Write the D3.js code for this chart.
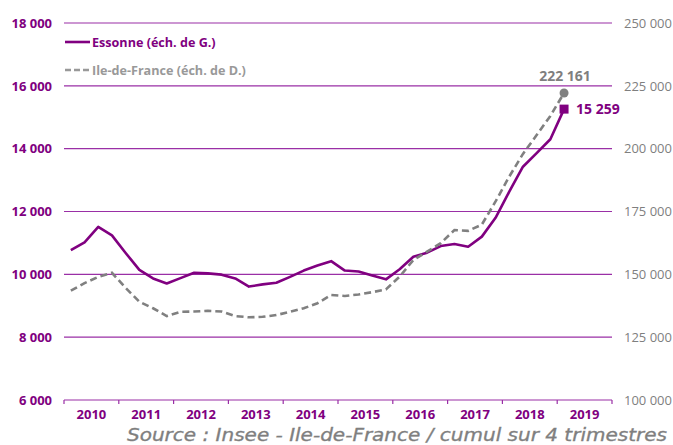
<!DOCTYPE html>
<html>
<head>
<meta charset="utf-8">
<script src="https://cdn.jsdelivr.net/npm/d3@7"></script>
<style>
  body { margin: 0; background: #fff; }
  svg { display: block; font-family: "Open Sans", "Noto Sans", sans-serif; }
</style>
</head>
<body>
<svg id="chart"></svg>
<script>
(function() {

const years = [2010, 2011, 2012, 2013, 2014, 2015, 2016, 2017, 2018, 2019];
const leftTicks = [6000, 8000, 10000, 12000, 14000, 16000, 18000];
const rightTicks = [100000, 125000, 150000, 175000, 200000, 225000, 250000];

// cumul sur 4 trimestres, 2010 T1 -> 2019 T1
const essonne = [
  10770, 11020, 11510, 11240,
  10680, 10140, 9870, 9710,
  9880, 10050, 10030, 9990,
  9870, 9610, 9680, 9730,
  9920, 10120, 10280, 10420,
  10120, 10090, 9960, 9840,
  10160, 10560, 10690, 10900,
  10965, 10880, 11200, 11800,
  12630, 13425, 13860, 14300,
  15259
];
const idf = [
  143500, 146500, 149000, 150600,
  144600, 139100, 136500, 133400,
  135100, 135200, 135500, 135200,
  133400, 132900, 133100, 133800,
  135100, 136500, 138500, 141800,
  141400, 142000, 142900, 144000,
  149100, 155700, 159000, 162400,
  167600, 167300, 169800, 179000,
  188900, 197900, 205400, 213000,
  222161
];

const purple = "#800080";
const gridColor = "#9a2fa6";
const grey = "#808080";

const W = 673, H = 445;
const margin = { top: 23, right: 61, bottom: 45, left: 64 };
const width = W - margin.left - margin.right;
const height = H - margin.top - margin.bottom;

const fmt = d => d3.format(",")(d).replace(",", " ");

const svg = d3.select("#chart")
    .attr("width", W)
    .attr("height", H);

const g = svg.append("g")
    .attr("transform", `translate(${margin.left},${margin.top})`);

const quarters = years.flatMap(y => [1, 2, 3, 4].map(q => `${y}T${q}`));

const xYear = d3.scaleBand().domain(years).range([0, width]);
const xQ = d3.scaleBand().domain(quarters).range([0, width]);
const yL = d3.scaleLinear().domain([6000, 18000]).range([height, 0]);
const yR = d3.scaleLinear().domain([100000, 250000]).range([height, 0]);

const qx = i => xQ(quarters[i]) + xQ.bandwidth() / 2;

// grid lines
g.selectAll(".grid")
    .data(leftTicks)
    .enter().append("line")
    .attr("class", "grid")
    .attr("x1", 0)
    .attr("x2", width)
    .attr("y1", d => yL(d))
    .attr("y2", d => yL(d))
    .attr("stroke", gridColor)
    .attr("stroke-width", 1.2);

// left axis labels
g.append("g")
    .call(d3.axisLeft(yL).tickValues(leftTicks).tickSize(0).tickPadding(12).tickFormat(fmt))
    .call(a => a.select(".domain").remove())
    .selectAll("text")
    .attr("fill", purple)
    .attr("font-weight", "bold")
    .attr("font-size", "13px")
    .attr("font-family", "Open Sans, sans-serif");

// right axis labels
g.append("g")
    .attr("transform", `translate(${width},0)`)
    .call(d3.axisRight(yR).tickValues(rightTicks).tickSize(0).tickPadding(12).tickFormat(fmt))
    .call(a => a.select(".domain").remove())
    .selectAll("text")
    .attr("fill", "#7f7f7f")
    .attr("font-size", "13px")
    .attr("font-family", "Open Sans, sans-serif");

// x axis: year ticks at band edges
g.selectAll(".xtick")
    .data(years.concat([null]))
    .enter().append("line")
    .attr("class", "xtick")
    .attr("x1", (d, i) => i < years.length ? xYear(d) : width)
    .attr("x2", (d, i) => i < years.length ? xYear(d) : width)
    .attr("y1", height)
    .attr("y2", height + 4)
    .attr("stroke", gridColor)
    .attr("stroke-width", 1.2);

g.selectAll(".xlabel")
    .data(years)
    .enter().append("text")
    .attr("class", "xlabel")
    .attr("x", d => xYear(d) + xYear.bandwidth() / 2)
    .attr("y", height + 19)
    .attr("text-anchor", "middle")
    .attr("font-size", "13px")
    .attr("font-weight", "bold")
    .attr("fill", purple)
    .text(d => d);

// lines
const lineL = d3.line().x((d, i) => qx(i)).y(d => yL(d));
const lineR = d3.line().x((d, i) => qx(i)).y(d => yR(d));

g.append("path")
    .datum(essonne)
    .attr("d", lineL)
    .attr("fill", "none")
    .attr("stroke", purple)
    .attr("stroke-width", 2.6)
    .attr("stroke-linejoin", "round");

g.append("path")
    .datum(idf)
    .attr("d", lineR)
    .attr("fill", "none")
    .attr("stroke", grey)
    .attr("stroke-width", 2.6)
    .attr("stroke-dasharray", "7,4");

// end markers + labels
const last = essonne.length - 1;
g.append("circle")
    .attr("cx", qx(last))
    .attr("cy", yR(idf[last]))
    .attr("r", 4.5)
    .attr("fill", grey);

g.append("rect")
    .attr("x", qx(last) - 4.5)
    .attr("y", yL(essonne[last]) - 4.5)
    .attr("width", 9)
    .attr("height", 9)
    .attr("fill", purple);

g.append("text")
    .attr("x", qx(last) + 1)
    .attr("y", yR(idf[last]) - 12)
    .attr("text-anchor", "middle")
    .attr("font-size", "14px")
    .attr("font-weight", "bold")
    .attr("fill", "#7f7f7f")
    .text(fmt(idf[last]));

g.append("text")
    .attr("x", qx(last) + 12)
    .attr("y", yL(essonne[last]) + 5)
    .attr("font-size", "14px")
    .attr("font-weight", "bold")
    .attr("fill", purple)
    .text(fmt(essonne[last]));

// legend
const legend = g.append("g").attr("transform", "translate(1,19)");
legend.append("line")
    .attr("x1", 0).attr("x2", 25).attr("y1", 0).attr("y2", 0)
    .attr("stroke", purple).attr("stroke-width", 2.6);
legend.append("text")
    .attr("x", 27).attr("y", 4.5)
    .attr("font-size", "12.6px")
    .attr("font-weight", "bold")
    .attr("fill", purple)
    .text("Essonne (éch. de G.)");
legend.append("line")
    .attr("x1", 0).attr("x2", 25).attr("y1", 28).attr("y2", 28)
    .attr("stroke", "#999").attr("stroke-width", 2.6)
    .attr("stroke-dasharray", "6,3");
legend.append("text")
    .attr("x", 27).attr("y", 32.5)
    .attr("font-size", "12.6px")
    .attr("font-weight", "bold")
    .attr("fill", "#999")
    .text("Ile-de-France (éch. de D.)");

// source
svg.append("text")
    .attr("x", 127)
    .attr("y", 441)
    .attr("textLength", 540)
    .attr("lengthAdjust", "spacingAndGlyphs")
    .attr("font-family", "DejaVu Sans, sans-serif")
    .attr("font-size", "18px")
    .attr("font-style", "italic")
    .attr("fill", "#7f7f7f")
    .attr("stroke", "#7f7f7f")
    .attr("stroke-width", 0.35)
    .text("Source : Insee - Ile-de-France / cumul sur 4 trimestres");

})();
</script>
</body>
</html>
